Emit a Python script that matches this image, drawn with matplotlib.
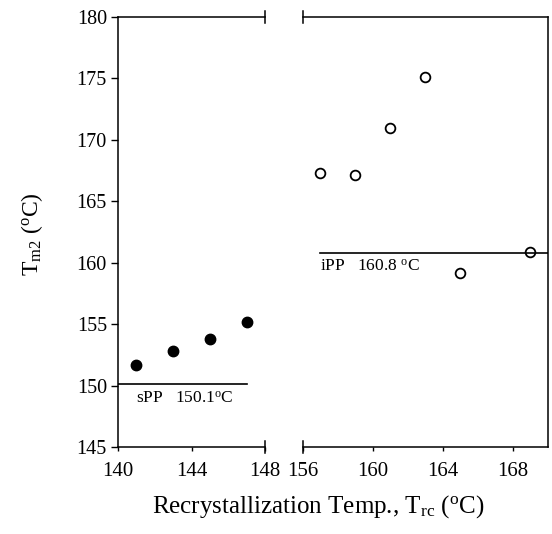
import matplotlib
matplotlib.use("Agg")
import matplotlib.pyplot as plt

# data
spp_trc = [141, 143, 145, 147]
spp_tm2 = [151.7, 152.8, 153.8, 155.2]
ipp_trc = [157, 159, 161, 163, 165, 169]
ipp_tm2 = [167.3, 167.1, 171.0, 175.1, 159.2, 160.9]

spp_eq = 150.1
ipp_eq = 160.8
spp_line_x = [140, 147]
ipp_line_x = [157, 170]

left_xticks = [140, 144, 148]
right_xticks = [156, 160, 164, 168]
yticks = [145, 150, 155, 160, 165, 170, 175, 180]

plt.rcParams['font.family'] = ['Liberation Serif', 'DejaVu Serif']
plt.rcParams['mathtext.fontset'] = 'custom'
plt.rcParams['mathtext.rm'] = 'Liberation Serif'
plt.rcParams['mathtext.it'] = 'Liberation Serif:italic'

fig = plt.figure(figsize=(5.52, 5.34), dpi=100)
W, H = 552.0, 534.0
top_px, bot_px = 17, 447
axl = fig.add_axes([118 / W, 1 - bot_px / H, 147 / W, (bot_px - top_px) / H])
axr = fig.add_axes([302.7 / W, 1 - bot_px / H, 245.3 / W, (bot_px - top_px) / H])

for ax in (axl, axr):
    ax.set_ylim(145, 180)
    for s in ax.spines.values():
        s.set_linewidth(1.1)
    ax.tick_params(axis='x', direction='out', length=3, width=1, labelsize=15, pad=8)
    ax.tick_params(axis='y', direction='out', length=5, width=1, labelsize=14.5, pad=3)

axl.set_xlim(140, 148)
axr.set_xlim(156, 170)

# left panel: sPP
axl.plot(spp_trc, spp_tm2, 'o', color='black', markersize=7.5, clip_on=False)
axl.plot(spp_line_x, [spp_eq, spp_eq], color='black', lw=1.2)
axl.text(141, spp_eq - 0.5, "sPP   150.1$^{\\rm o}$C", fontsize=12.5, va='top', ha='left')
axl.spines['right'].set_visible(False)
axl.set_xticks(left_xticks)
axl.set_yticks(yticks)

# right panel: iPP
axr.plot(ipp_trc, ipp_tm2, 'o', markerfacecolor='none', markeredgecolor='black',
         markeredgewidth=1.3, markersize=7, clip_on=False)
axr.plot(ipp_line_x, [ipp_eq, ipp_eq], color='black', lw=1.2)
axr.text(157, ipp_eq - 0.5, "iPP   160.8 $^{\\rm o}$C", fontsize=12.5, va='top', ha='left')
axr.spines['left'].set_visible(False)
axr.set_xticks(right_xticks)
axr.set_yticks([])

# break marks
for ax, xb in ((axl, 1.0), (axr, 0.0)):
    for yb in (0.0, 1.0):
        ax.plot([xb, xb], [yb - 0.013, yb + 0.013], transform=ax.transAxes,
                color='black', lw=1.1, clip_on=False)

fig.text(32 / W, 1 - 234 / H, "T$_{\\rm m2}$ ($^{\\rm o}$C)", rotation=90,
         fontsize=17, ha='center', va='center')
fig.text(318 / W, 1 - 507 / H, "Recrystallization Temp., T$_{\\rm rc}$ ($^{\\rm o}$C)",
         fontsize=18, ha='center', va='center')

fig.savefig("out.png", dpi=100)
